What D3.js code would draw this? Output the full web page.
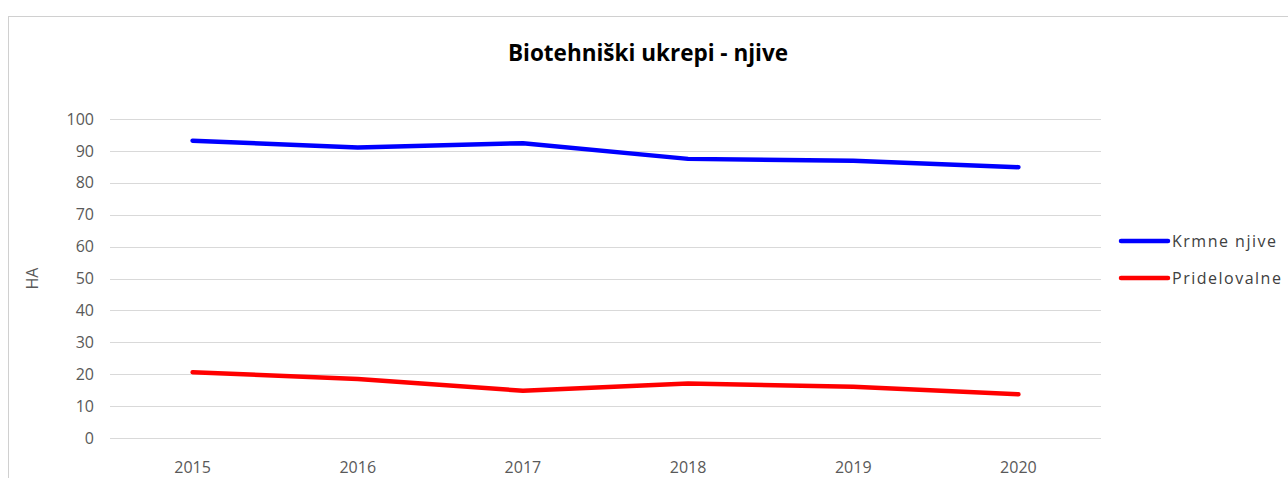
<!DOCTYPE html>
<html>
<head>
<meta charset="utf-8">
<script src="https://cdn.jsdelivr.net/npm/d3@7"></script>
<style>
html,body{margin:0;padding:0;background:#fff;}
svg{display:block;}
</style>
</head>
<body>
<svg id="chart" width="1288" height="478"></svg>
<script>
const years = ["2015","2016","2017","2018","2019","2020"];
const krmneNjive = [93.2, 91.1, 92.4, 87.5, 86.9, 84.9];
const pridelovalne = [20.6, 18.5, 14.8, 17.1, 16.1, 13.7];
const yTicks = [0,10,20,30,40,50,60,70,80,90,100];
const seriesNames = ["Krmne njive", "Pridelovalne"];
const seriesColors = ["#0000ff", "#ff0000"];
const titleText = "Biotehniški ukrepi - njive";
const yAxisTitle = "HA";

const svg = d3.select("#chart");
const font = "'Open Sans', 'Noto Sans', sans-serif";

// outer chart border
svg.append("rect").attr("x",8.5).attr("y",16.5).attr("width",1300).attr("height",500)
  .attr("fill","#fff").attr("stroke","#d0d0d0").attr("stroke-width",1);

const m = {left:110, right:1101, top:119, bottom:438};
const x = d3.scaleBand().domain(years).range([m.left, m.right]);
const y = d3.scaleLinear().domain([0,100]).range([m.bottom, m.top]);

// gridlines
svg.append("g").selectAll("line").data(yTicks).join("line")
  .attr("x1", m.left).attr("x2", m.right)
  .attr("y1", d=>Math.round(y(d))+0.5).attr("y2", d=>Math.round(y(d))+0.5)
  .attr("stroke","#d9d9d9").attr("stroke-width",1);

// y axis
const yAxis = d3.axisLeft(y).tickValues(yTicks).tickSize(0).tickPadding(16);
const gy = svg.append("g").attr("transform",`translate(${m.left},0)`).call(yAxis);
gy.select(".domain").remove();
gy.selectAll("text").attr("font-family",font).attr("font-size",16).attr("fill","#595959");

// x axis
const xAxis = d3.axisBottom(x).tickSize(0).tickPadding(24);
const gx = svg.append("g").attr("transform",`translate(0,${m.bottom})`).call(xAxis);
gx.select(".domain").remove();
gx.selectAll("text").attr("font-family",font).attr("font-size",16).attr("fill","#595959");

// title
svg.append("text").attr("x",648).attr("y",61).attr("text-anchor","middle")
  .attr("font-family",font).attr("font-weight","bold").attr("font-size",22.5)
  .attr("fill","#000").text(titleText);

// y axis title
svg.append("text").attr("transform",`translate(38,${(m.top+m.bottom)/2}) rotate(-90)`)
  .attr("text-anchor","middle").attr("font-family",font).attr("font-size",16)
  .attr("fill","#595959").text(yAxisTitle);

// lines
const line = d3.line().x((d,i)=>x(years[i])+x.bandwidth()/2).y(d=>y(d));
[krmneNjive, pridelovalne].forEach((s,i)=>{
  svg.append("path").datum(s).attr("d",line).attr("fill","none")
    .attr("stroke",seriesColors[i]).attr("stroke-width",4.5)
    .attr("stroke-linecap","round").attr("stroke-linejoin","round");
});

// legend
const legY = [241, 278];
seriesNames.forEach((n,i)=>{
  svg.append("line").attr("x1",1121).attr("x2",1168).attr("y1",legY[i]).attr("y2",legY[i])
    .attr("stroke",seriesColors[i]).attr("stroke-width",4.5).attr("stroke-linecap","round");
  svg.append("text").attr("x",1172).attr("y",legY[i]+6)
    .attr("font-family",font).attr("font-size",16).attr("letter-spacing","1.5px")
    .attr("fill","#404040").text(n);
});
</script>
</body>
</html>
